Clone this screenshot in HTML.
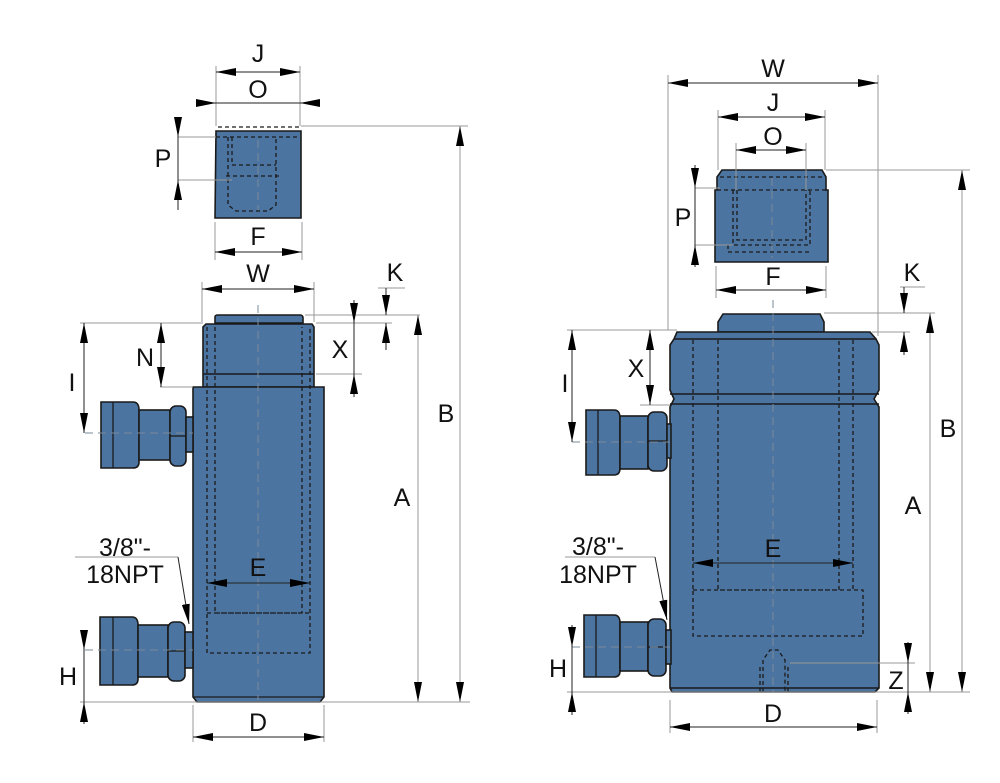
<!DOCTYPE html>
<html><head><meta charset="utf-8"><style>
html,body{margin:0;padding:0;background:#fff}
svg{display:block}
text{font-family:"Liberation Sans",sans-serif;font-size:25px;fill:#111;text-anchor:middle}
.b{fill:#4c74a0;stroke:#1a1a1a;stroke-width:1.6}
.d{fill:none;stroke:#1a1a1a;stroke-width:1.3;stroke-dasharray:4 3}
.c{fill:none;stroke:#7a8a9a;stroke-width:1;stroke-dasharray:8 5}
.g{fill:none;stroke:#999;stroke-width:1}
.k{fill:none;stroke:#222;stroke-width:1}
</style></head><body>
<svg width="1000" height="783" viewBox="0 0 1000 783">
<defs>
<marker id="a" viewBox="0 0 20 8" refX="20" refY="4" markerWidth="20" markerHeight="8" markerUnits="userSpaceOnUse" orient="auto-start-reverse"><path d="M0,0L20,4L0,8z" fill="#000"/></marker>
</defs>

<!-- ================= LEFT ================= -->
<path class="b" d="M216,131 L301,131 L301,218 L215,218 Z" />
<path class="d" d="M218,127 L300,127 M216,137 L300,137 M228,137 L228,205 L236,211 L268,211 L276,205 L276,137 M232,137 L232,165 L276,165 M226,176 L280,176"/>
<line class="c" x1="258" y1="140" x2="258" y2="210"/>
<path class="b" d="M215,323 L215,317 Q215,315 218,315 L300,315 Q303,315 303,318 L303,323 Z"/>
<path class="b" d="M206,324 L312,324 L314,327 L314,387 L203,387 L203,327 Z"/>
<line x1="203" y1="374" x2="314" y2="374" stroke="#1a1a1a" stroke-width="1.6"/>
<path class="b" d="M193,387 L324,387 L324,697 L320,702 L197,702 L193,697 Z"/>
<line x1="193" y1="697" x2="324" y2="697" stroke="#1a1a1a" stroke-width="1.3"/>
<path class="d" d="M207,327 L207,653 L310,653 L310,327 M215,327 L215,613 L302,613 L302,327 M207,613 L310,613"/>
<line class="c" x1="258" y1="305" x2="258" y2="700"/>
<g>
<path class="b" d="M101,402 L133,402 Q139,402 139,410 L139,462 Q139,468 133,468 L101,468 Z"/>
<line x1="113" y1="402" x2="113" y2="468" stroke="#1a1a1a" stroke-width="1.3"/>
<rect class="b" x="139" y="410" width="31" height="50"/>
<rect class="b" x="170" y="406" width="16" height="60" rx="6"/>
<line x1="170" y1="436" x2="186" y2="436" stroke="#1a1a1a" stroke-width="1.3"/>
<rect class="b" x="186" y="417" width="7" height="35"/>
<line class="c" x1="85" y1="433" x2="193" y2="433"/>
</g>
<g>
<path class="b" d="M100,617 L132,617 Q138,617 138,625 L138,679 Q138,685 132,685 L100,685 Z"/>
<line x1="113" y1="617" x2="113" y2="685" stroke="#1a1a1a" stroke-width="1.3"/>
<rect class="b" x="138" y="625" width="30" height="52"/>
<rect class="b" x="168" y="622" width="17" height="59" rx="6"/>
<line x1="168" y1="651" x2="185" y2="651" stroke="#1a1a1a" stroke-width="1.3"/>
<rect class="b" x="185" y="632" width="8" height="36"/>
<line class="c" x1="85" y1="650" x2="193" y2="650"/>
</g>
<path class="g" d="M216,66 L216,126 M300,66 L300,126 M301,126 L468,126 M215,222 L215,260 M302,222 L302,260 M202,282 L202,322 M314,282 L314,322 M305,315 L420,315 M316,323 L392,323 M316,374 L362,374 M378,288 L405,288 M80,323 L203,323 M160,387 L193,387 M80,702 L470,702 M193,705 L193,742 M324,705 L324,742 M178,137 L216,137 M178,180 L232,180 M75,557 L178,557"/>
<line class="k" x1="216" y1="72" x2="300" y2="72" marker-start="url(#a)" marker-end="url(#a)"/>
<line class="k" x1="196" y1="103" x2="216" y2="103" marker-end="url(#a)"/>
<line class="k" x1="216" y1="103" x2="300" y2="103"/>
<line class="k" x1="320" y1="103" x2="300" y2="103" marker-end="url(#a)"/>
<line class="k" x1="178" y1="118" x2="178" y2="137" marker-end="url(#a)"/>
<line class="k" x1="178" y1="137" x2="178" y2="180"/>
<line class="k" x1="178" y1="210" x2="178" y2="180" marker-end="url(#a)"/>
<line class="k" x1="215" y1="252" x2="302" y2="252" marker-start="url(#a)" marker-end="url(#a)"/>
<line class="k" x1="202" y1="289" x2="314" y2="289" marker-start="url(#a)" marker-end="url(#a)"/>
<line class="k" x1="386" y1="288" x2="386" y2="315" marker-end="url(#a)"/>
<line class="k" x1="386" y1="350" x2="386" y2="323" marker-end="url(#a)"/>
<line class="k" x1="354" y1="300" x2="354" y2="323" marker-end="url(#a)"/>
<line class="k" x1="354" y1="323" x2="354" y2="374"/>
<line class="k" x1="354" y1="397" x2="354" y2="374" marker-end="url(#a)"/>
<line class="g" x1="418" y1="315" x2="418" y2="702" marker-start="url(#a)" marker-end="url(#a)"/>
<line class="g" x1="460" y1="126" x2="460" y2="702" marker-start="url(#a)" marker-end="url(#a)"/>
<line class="k" x1="161" y1="323" x2="161" y2="387" marker-start="url(#a)" marker-end="url(#a)"/>
<line class="k" x1="84" y1="323" x2="84" y2="433" marker-start="url(#a)" marker-end="url(#a)"/>
<line class="k" x1="84" y1="630" x2="84" y2="650" marker-end="url(#a)"/>
<line class="k" x1="84" y1="650" x2="84" y2="702"/>
<line class="k" x1="84" y1="724" x2="84" y2="702" marker-end="url(#a)"/>
<line class="k" x1="193" y1="737" x2="324" y2="737" marker-start="url(#a)" marker-end="url(#a)"/>
<line class="k" x1="207" y1="583" x2="310" y2="583" marker-start="url(#a)" marker-end="url(#a)"/>
<line class="k" x1="178" y1="557" x2="189" y2="624" marker-end="url(#a)"/>
<text x="258" y="62">J</text><text x="258" y="98">O</text><text x="163" y="167">P</text>
<text x="258" y="245">F</text><text x="258" y="282">W</text><text x="395" y="281">K</text>
<text x="340" y="358">X</text><text x="145" y="366">N</text><text x="72" y="391">I</text>
<text x="446" y="422">B</text><text x="402" y="506">A</text><text x="258" y="576">E</text>
<text x="125" y="556">3/8"-</text><text x="125" y="583">18NPT</text>
<text x="68" y="685">H</text><text x="258" y="731">D</text>

<!-- ================= RIGHT ================= -->
<path class="b" d="M722,170 L822,170 L826,177 L826,190 L828,190 L828,262 L715,262 L715,190 L717,190 L717,177 Z"/>
<path class="d" d="M720,177 L824,177 M717,190 L828,190 M733,190 L733,245 L810,245 L810,190 M737,190 L737,240 L806,240 L806,190 M728,245 L728,252 L811,252"/>
<line class="c" x1="772" y1="178" x2="772" y2="258"/>
<path class="b" d="M718,332 L718,322 L723,314 L820,314 L824,322 L824,332 Z"/>
<path class="b" d="M674,339 L677,332 L870,332 L876,339 L879,345 L879,390 L874,399 L879,407 L879,688 L875,692 L672,692 L670,688 L670,407 L674,399 L670,390 L670,345 Z"/>
<path d="M674,339 L876,339 M670,394 L879,394 M670,404 L879,404 M670,688 L879,688" stroke="#1a1a1a" stroke-width="1.4"/>
<path class="d" d="M693,340 L693,590 M718,340 L718,590 L839,590 L839,340 M853,340 L853,590 M693,590 L863,590 L863,636 L693,636 L693,590 M763,692 L763,660 L770,650 L778,650 L785,660 L785,692 M760,692 L760,664 M788,692 L788,664"/>
<line class="c" x1="773" y1="300" x2="773" y2="692"/>
<g>
<path class="b" d="M586,410 L614,410 Q620,410 620,418 L620,468 Q620,475 614,475 L586,475 Z"/>
<line x1="598" y1="410" x2="598" y2="475" stroke="#1a1a1a" stroke-width="1.3"/>
<rect class="b" x="620" y="416" width="28" height="53"/>
<rect class="b" x="648" y="412" width="19" height="59" rx="6"/>
<line x1="648" y1="441" x2="667" y2="441" stroke="#1a1a1a" stroke-width="1.3"/>
<rect class="b" x="667" y="424" width="4" height="34"/>
<line class="c" x1="572" y1="442" x2="670" y2="442"/>
</g>
<g>
<path class="b" d="M584,615 L614,615 Q620,615 620,623 L620,671 Q620,677 614,677 L584,677 Z"/>
<line x1="596" y1="615" x2="596" y2="677" stroke="#1a1a1a" stroke-width="1.3"/>
<rect class="b" x="620" y="622" width="28" height="49"/>
<rect class="b" x="648" y="619" width="18" height="57" rx="6"/>
<line x1="648" y1="647" x2="666" y2="647" stroke="#1a1a1a" stroke-width="1.3"/>
<rect class="b" x="666" y="630" width="5" height="34"/>
<line class="c" x1="572" y1="647" x2="670" y2="647"/>
</g>
<path class="g" d="M668,75 L668,330 M878,75 L878,336 M718,110 L718,170 M825,110 L825,170 M736,143 L736,190 M806,143 L806,190 M826,170 L970,170 M695,188 L720,188 M695,245 L733,245 M716,266 L716,298 M826,266 L826,298 M900,287 L925,287 M824,313 L935,313 M872,332 L910,332 M567,330 L677,330 M640,405 L670,405 M567,692 L970,692 M670,700 L670,733 M877,700 L877,733 M790,663 L915,663 M565,557 L655,557"/>
<line class="k" x1="668" y1="83" x2="878" y2="83" marker-start="url(#a)" marker-end="url(#a)"/>
<line class="k" x1="718" y1="117" x2="825" y2="117" marker-start="url(#a)" marker-end="url(#a)"/>
<line class="k" x1="736" y1="150" x2="806" y2="150" marker-start="url(#a)" marker-end="url(#a)"/>
<line class="k" x1="695" y1="165" x2="695" y2="188" marker-end="url(#a)"/>
<line class="k" x1="695" y1="188" x2="695" y2="245"/>
<line class="k" x1="695" y1="267" x2="695" y2="245" marker-end="url(#a)"/>
<line class="k" x1="716" y1="290" x2="826" y2="290" marker-start="url(#a)" marker-end="url(#a)"/>
<line class="k" x1="904" y1="287" x2="904" y2="313" marker-end="url(#a)"/>
<line class="k" x1="904" y1="355" x2="904" y2="332" marker-end="url(#a)"/>
<line class="g" x1="930" y1="313" x2="930" y2="692" marker-start="url(#a)" marker-end="url(#a)"/>
<line class="g" x1="962" y1="170" x2="962" y2="692" marker-start="url(#a)" marker-end="url(#a)"/>
<line class="k" x1="650" y1="330" x2="650" y2="405" marker-start="url(#a)" marker-end="url(#a)"/>
<line class="k" x1="572" y1="330" x2="572" y2="442" marker-start="url(#a)" marker-end="url(#a)"/>
<line class="k" x1="572" y1="625" x2="572" y2="647" marker-end="url(#a)"/>
<line class="k" x1="572" y1="647" x2="572" y2="692"/>
<line class="k" x1="572" y1="715" x2="572" y2="692" marker-end="url(#a)"/>
<line class="k" x1="908" y1="642" x2="908" y2="663" marker-end="url(#a)"/>
<line class="k" x1="908" y1="663" x2="908" y2="692"/>
<line class="k" x1="908" y1="714" x2="908" y2="692" marker-end="url(#a)"/>
<line class="k" x1="670" y1="727" x2="877" y2="727" marker-start="url(#a)" marker-end="url(#a)"/>
<line class="k" x1="693" y1="563" x2="853" y2="563" marker-start="url(#a)" marker-end="url(#a)"/>
<line class="k" x1="655" y1="557" x2="667" y2="620" marker-end="url(#a)"/>
<text x="773" y="77">W</text><text x="773" y="111">J</text><text x="773" y="145">O</text>
<text x="683" y="226">P</text><text x="773" y="285">F</text><text x="912" y="281">K</text>
<text x="636" y="377">X</text><text x="565" y="392">I</text><text x="948" y="437">B</text>
<text x="913" y="514">A</text><text x="773" y="557">E</text>
<text x="598" y="555">3/8"-</text><text x="598" y="583">18NPT</text>
<text x="558" y="677">H</text><text x="896" y="689">Z</text><text x="773" y="722">D</text>
</svg>
</body></html>
